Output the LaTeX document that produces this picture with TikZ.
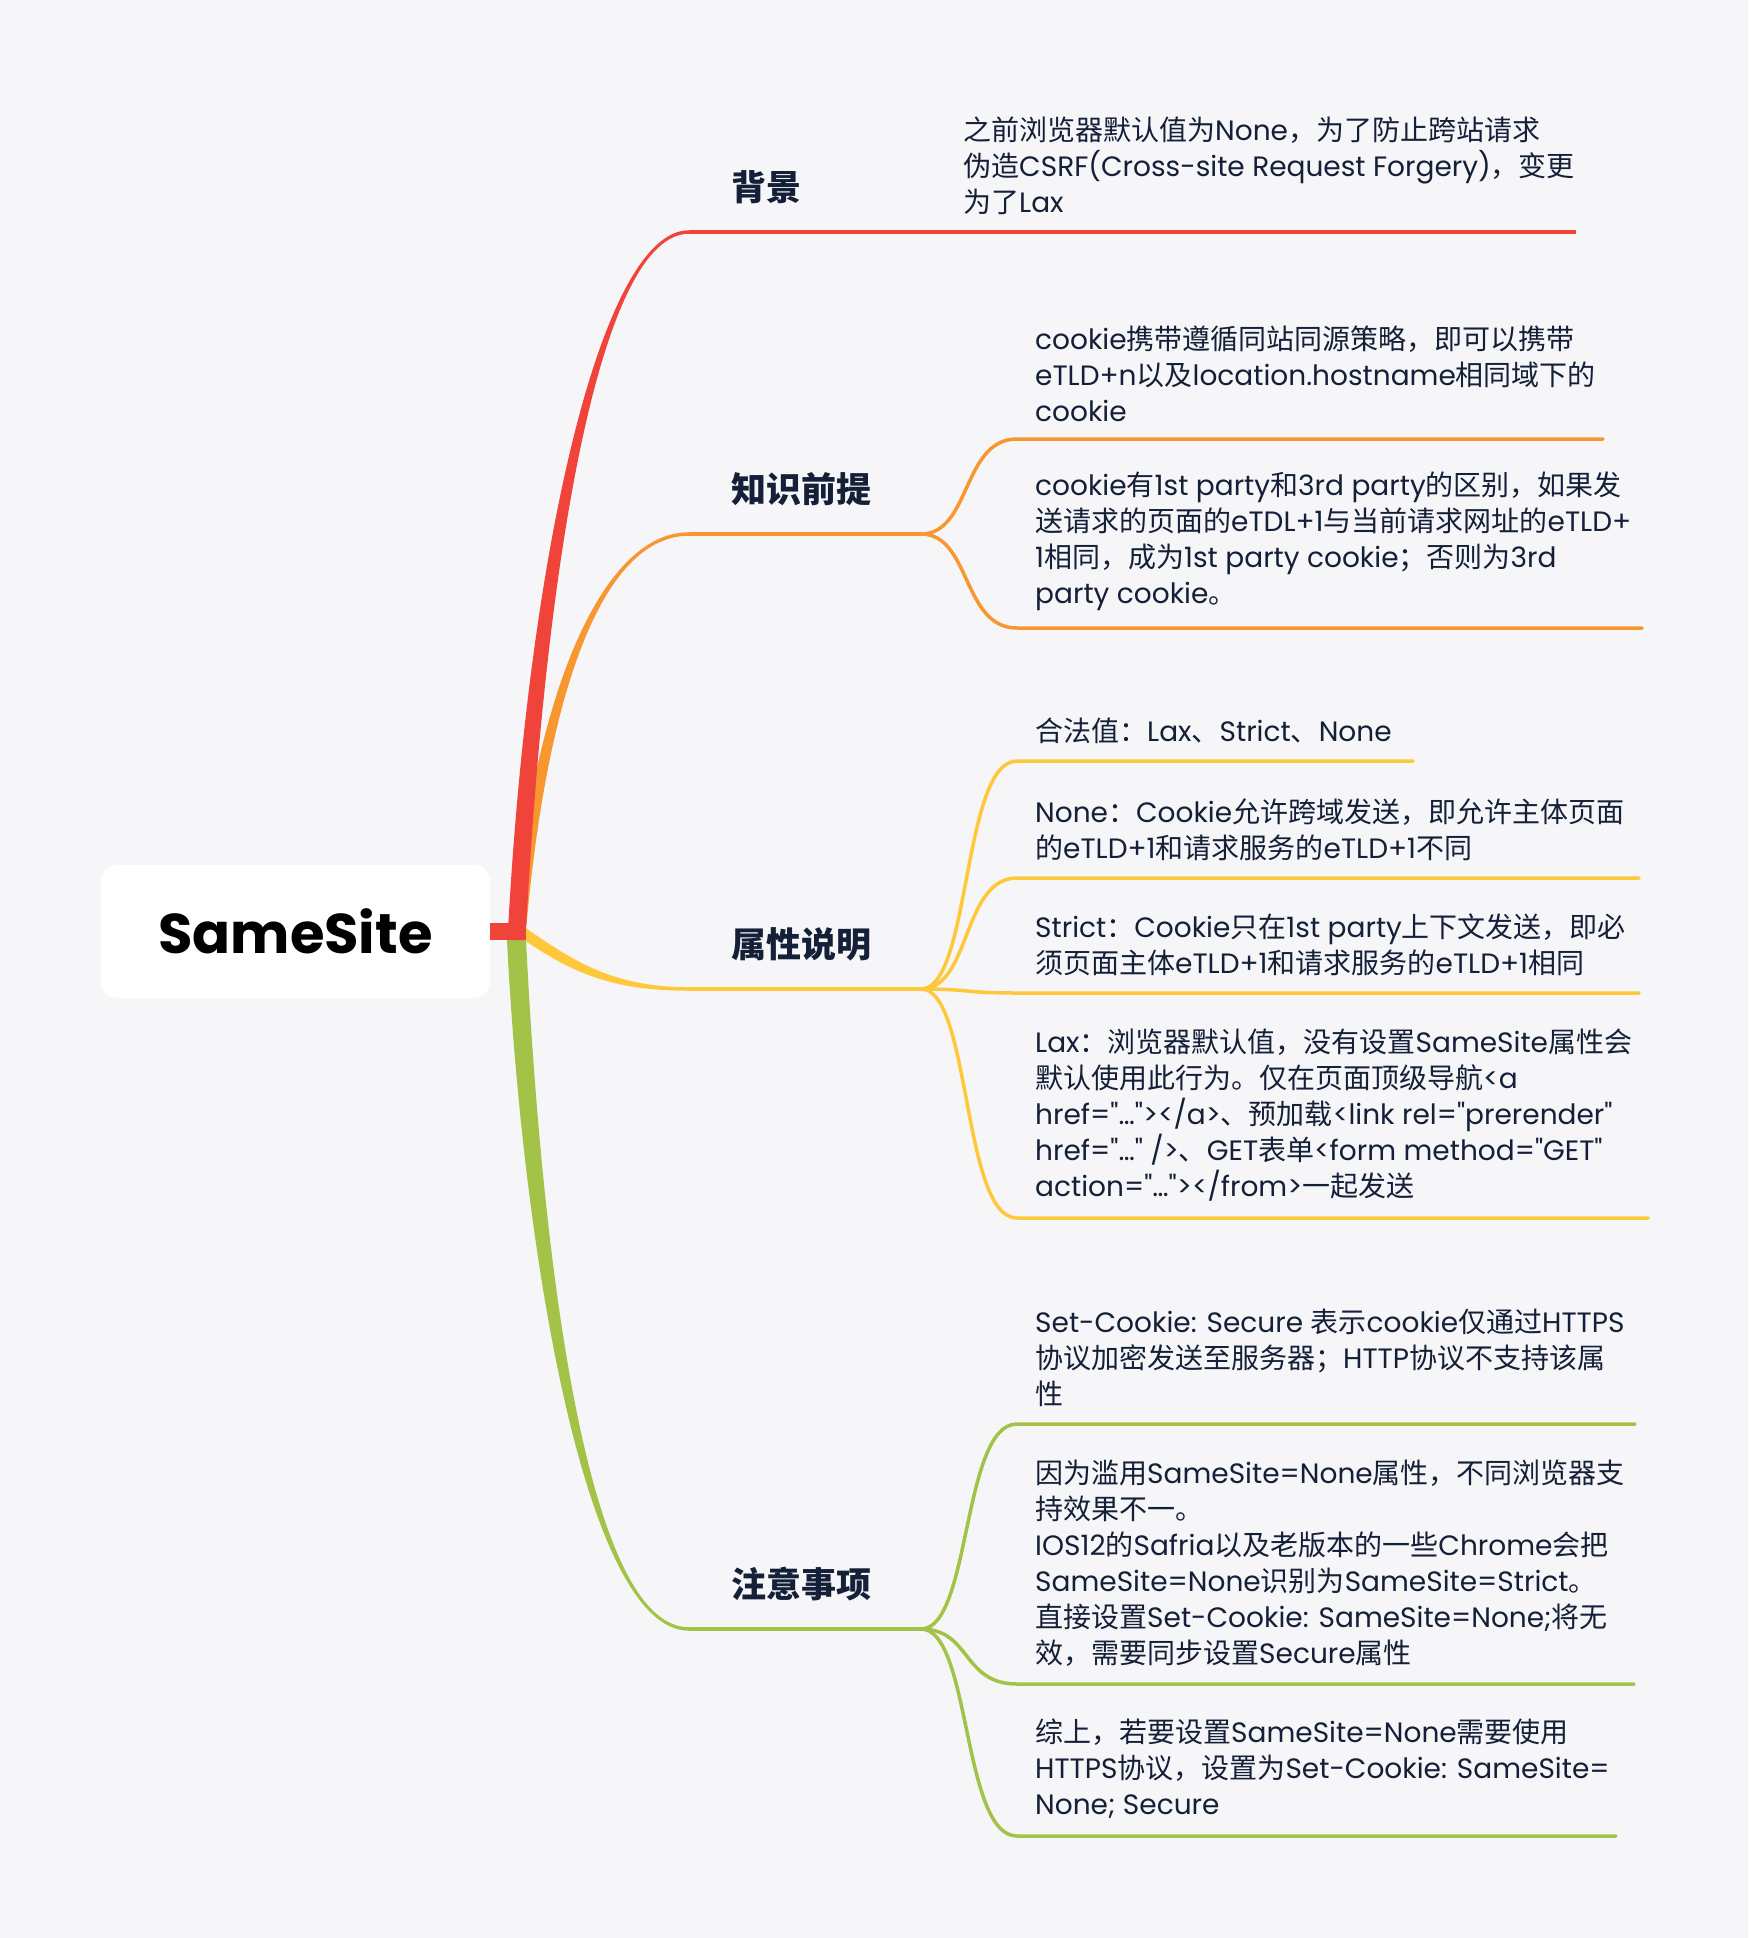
\documentclass[tikz,border=0pt]{standalone}
\usepackage{fontspec}
\usepackage{tikz}
\usetikzlibrary{calc}
\setmainfont{Poppins}
\newfontfamily\latfont{Poppins}
\newfontfamily\hanfont{Noto Sans CJK SC}
\XeTeXinterchartokenstate=1
\newXeTeXintercharclass\hanclass
\count255="3000
\loop\XeTeXcharclass\count255=\hanclass\advance\count255 by 1\ifnum\count255<"3040 \repeat
\count255="4E00
\loop\XeTeXcharclass\count255=\hanclass\advance\count255 by 1\ifnum\count255<"A000 \repeat
\count255="FF00
\loop\XeTeXcharclass\count255=\hanclass\advance\count255 by 1\ifnum\count255<"FF60 \repeat
\XeTeXinterchartoks 0 \hanclass = {\hanfont}
\XeTeXinterchartoks 4095 \hanclass = {\hanfont}
\XeTeXinterchartoks \hanclass 0 = {\latfont}
\XeTeXinterchartoks 4095 0 = {\latfont}
\definecolor{canvas}{RGB}{246,246,248}
\definecolor{ink}{RGB}{20,31,56}
\definecolor{bg_red}{RGB}{240,67,58}
\definecolor{pre_orange}{RGB}{248,150,48}
\definecolor{attr_yellow}{RGB}{255,200,58}
\definecolor{note_green}{RGB}{162,195,72}
\newcommand\taperfill[7]{%
  \fill[#1] ($(#2)+#6$) .. controls ($(#3)+#6$) and ($(#4)+(0,#7)$) .. ($(#5)+(0,#7)$)
    -- ($(#5)-(0,#7)$) .. controls ($(#4)-(0,#7)$) and ($(#3)-#6$) .. ($(#2)-#6$) -- cycle;}
\tikzset{
  rootbox/.style={fill=white, rounded corners=16, minimum width=389, minimum height=133,
    inner sep=0, font=\fontsize{56}{60}\selectfont\bfseries, text=black},
  topic/.style={anchor=west, inner sep=0, text=ink, font=\fontsize{35}{40}\selectfont\bfseries},
  leaf/.style={anchor=south west, inner sep=0, align=left, text=ink, font=\fontsize{28}{36}\selectfont},
  twig/.style={line width=3.5, line cap=round}
}

\begin{document}
\begin{tikzpicture}[x=1pt, y=-1pt]
\fill[canvas] (0,0) rectangle (1748,1938);
\useasboundingbox (0,0) rectangle (1748,1938);

\node[rootbox] (root) at (295.5,931.5) {SameSite};
\coordinate (hub) at (516.5,940);

\coordinate (bg) at (689,232);
\coordinate (pre) at (689,534);
\coordinate (attr) at (689,989);
\coordinate (note) at (689,1629);

\taperfill{note_green}{hub}{532,1250}{585,1629}{note}{(9.5,0)}{-1.75}
\taperfill{attr_yellow}{522,932}{570,965}{610,989}{attr}{(0,6.5)}{1.75}
\taperfill{pre_orange}{520,925}{540,700}{600,534}{pre}{(6.5,0)}{1.75}
\taperfill{bg_red}{hub}{536,560}{600,232}{bg}{(9,0)}{1.75}
\fill[bg_red] ($(root.east)+(0,-8.5)$) rectangle ($(hub)+(9,0)$);

\node[topic] (bg-txt) at ($(bg)+(42,-45)$) {背景};
\node[topic] (pre-txt) at ($(pre)+(42,-45)$) {知识前提};
\node[topic] (attr-txt) at ($(attr)+(42,-45)$) {属性说明};
\node[topic] (note-txt) at ($(note)+(42,-45)$) {注意事项};

\coordinate (bg-end) at (1576,232);
\draw[twig, bg_red, line cap=butt] (bg) -- (bg-end);
\node[leaf] (bg-a) at (963,215) {之前浏览器默认值为None，为了防止跨站请求\\伪造CSRF(Cross-site Request Forgery)，变更\\为了Lax};

\coordinate (pre-fork) at (921,534);
\coordinate (pre-a) at (1017,439);
\coordinate (pre-b) at (1017,628);
\draw[twig, pre_orange, line cap=butt] (pre) -- (pre-fork);
\draw[twig, pre_orange] (pre-fork) .. controls +(50,0) and +(-55,0) .. (pre-a) -- (1603,439);
\draw[twig, pre_orange] (pre-fork) .. controls +(50,0) and +(-55,0) .. (pre-b) -- (1642,628);
\node[leaf] (pre-a-txt) at ($(pre-a)+(18,-17)$) {cookie携带遵循同站同源策略，即可以携带\\eTLD+n以及location.hostname相同域下的\\cookie};
\node[leaf] (pre-b-txt) at ($(pre-b)+(18,-17)$) {cookie有1st party和3rd party的区别，如果发\\送请求的页面的eTDL+1与当前请求网址的eTLD+\\1相同，成为1st party cookie；否则为3rd\\party cookie。};

\coordinate (attr-fork) at (921,989);
\coordinate (attr-a) at (1017,761);
\coordinate (attr-b) at (1017,878);
\coordinate (attr-c) at (1017,993);
\coordinate (attr-d) at (1017,1218);
\draw[twig, attr_yellow, line cap=butt] (attr) -- (attr-fork);
\draw[twig, attr_yellow] (attr-fork) .. controls +(50,0) and +(-55,0) .. (attr-a) -- (1413,761);
\draw[twig, attr_yellow] (attr-fork) .. controls +(50,0) and +(-55,0) .. (attr-b) -- (1639,878);
\draw[twig, attr_yellow] (attr-fork) .. controls +(50,0) and +(-55,0) .. (attr-c) -- (1639,993);
\draw[twig, attr_yellow] (attr-fork) .. controls +(50,0) and +(-55,0) .. (attr-d) -- (1648,1218);
\node[leaf] (attr-a-txt) at ($(attr-a)+(18,-17)$) {合法值：Lax、Strict、None};
\node[leaf] (attr-b-txt) at ($(attr-b)+(18,-17)$) {None：Cookie允许跨域发送，即允许主体页面\\的eTLD+1和请求服务的eTLD+1不同};
\node[leaf] (attr-c-txt) at ($(attr-c)+(18,-17)$) {Strict：Cookie只在1st party上下文发送，即必\\须页面主体eTLD+1和请求服务的eTLD+1相同};
\node[leaf] (attr-d-txt) at ($(attr-d)+(18,-17)$) {Lax：浏览器默认值，没有设置SameSite属性会\\默认使用此行为。仅在页面顶级导航<a\\href="…"></a>、预加载<link rel="prerender"\\href="…" />、GET表单<form method="GET"\\action="…"></from>一起发送};

\coordinate (note-fork) at (921,1629);
\coordinate (note-a) at (1017,1424);
\coordinate (note-b) at (1017,1684);
\coordinate (note-c) at (1017,1836);
\draw[twig, note_green, line cap=butt] (note) -- (note-fork);
\draw[twig, note_green] (note-fork) .. controls +(50,0) and +(-55,0) .. (note-a) -- (1635,1424);
\draw[twig, note_green] (note-fork) .. controls +(50,0) and +(-55,0) .. (note-b) -- (1634,1684);
\draw[twig, note_green] (note-fork) .. controls +(50,0) and +(-55,0) .. (note-c) -- (1616,1836);
\node[leaf] (note-a-txt) at ($(note-a)+(18,-17)$) {Set-Cookie: Secure 表示cookie仅通过HTTPS\\协议加密发送至服务器；HTTP协议不支持该属\\性};
\node[leaf] (note-b-txt) at ($(note-b)+(18,-17)$) {因为滥用SameSite=None属性，不同浏览器支\\持效果不一。\\IOS12的Safria以及老版本的一些Chrome会把\\SameSite=None识别为SameSite=Strict。\\直接设置Set-Cookie: SameSite=None;将无\\效，需要同步设置Secure属性};
\node[leaf] (note-c-txt) at ($(note-c)+(18,-17)$) {综上，若要设置SameSite=None需要使用\\HTTPS协议，设置为Set-Cookie: SameSite=\\None; Secure};
\end{tikzpicture}
\end{document}
